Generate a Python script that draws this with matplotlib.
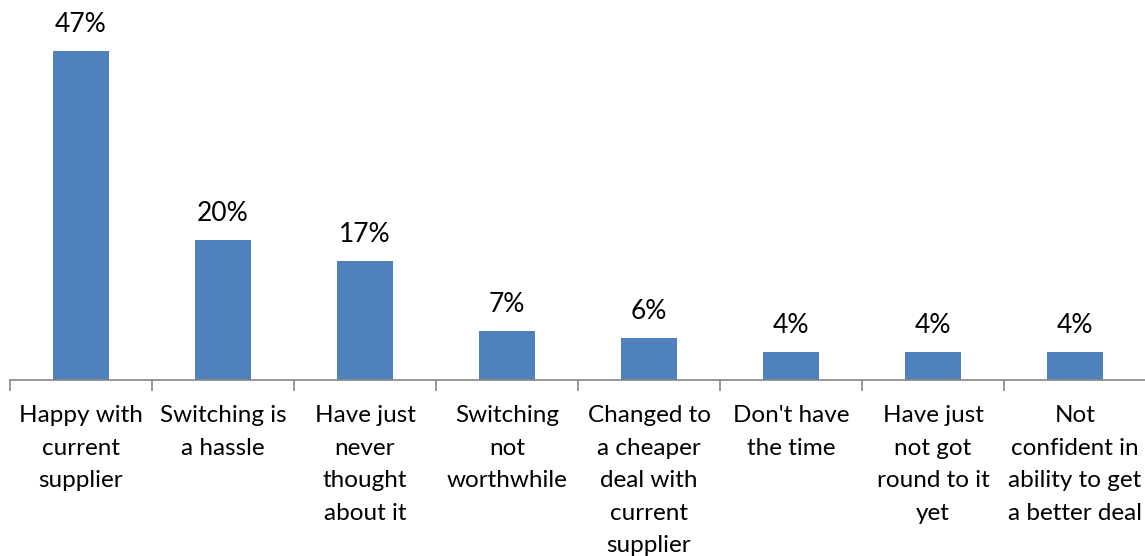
import matplotlib.pyplot as plt
import numpy as np

reasons = ["Happy with\ncurrent\nsupplier", "Switching is\na hassle",
           "Have just\nnever\nthought\nabout it", "Switching\nnot\nworthwhile",
           "Changed to\na cheaper\ndeal with\ncurrent\nsupplier", "Don't have\nthe time",
           "Have just\nnot got\nround to it\nyet", "Not\nconfident in\nability to get\na better deal"]
shares = [47, 20, 17, 7, 6, 4, 4, 4]

plt.rcParams['font.family'] = ['Lato', 'DejaVu Sans']

fig = plt.figure(figsize=(11.45, 5.56), dpi=100)
ax = fig.add_axes([10 / 1145, 176 / 556, 1136 / 1145, 350 / 556])

x = np.arange(len(shares))
bars = ax.bar(x, shares, width=0.4, color='#4F81BD')
for xi, v in zip(x, shares):
    ax.annotate(f"{v}%", (xi, v), xytext=(0, 10), textcoords='offset points',
                ha='center', va='bottom', fontsize=19, color='black')

ax.set_xlim(-0.5, len(shares) - 0.5)
ax.set_ylim(0, 50)
for s in ['top', 'right', 'left']:
    ax.spines[s].set_visible(False)
ax.spines['bottom'].set_color('#868686')
ax.spines['bottom'].set_linewidth(1.2)
ax.set_yticks([])

ax.set_xticks(x)
ax.set_xticklabels(reasons, fontsize=17.5, linespacing=1.68)
ax.tick_params(axis='x', which='major', length=0, pad=18)
ax.set_xticks(np.arange(len(shares) + 1) - 0.5, minor=True)
ax.tick_params(axis='x', which='minor', length=8, width=1.2, color='#868686')

fig.savefig('out.png', dpi=100)
